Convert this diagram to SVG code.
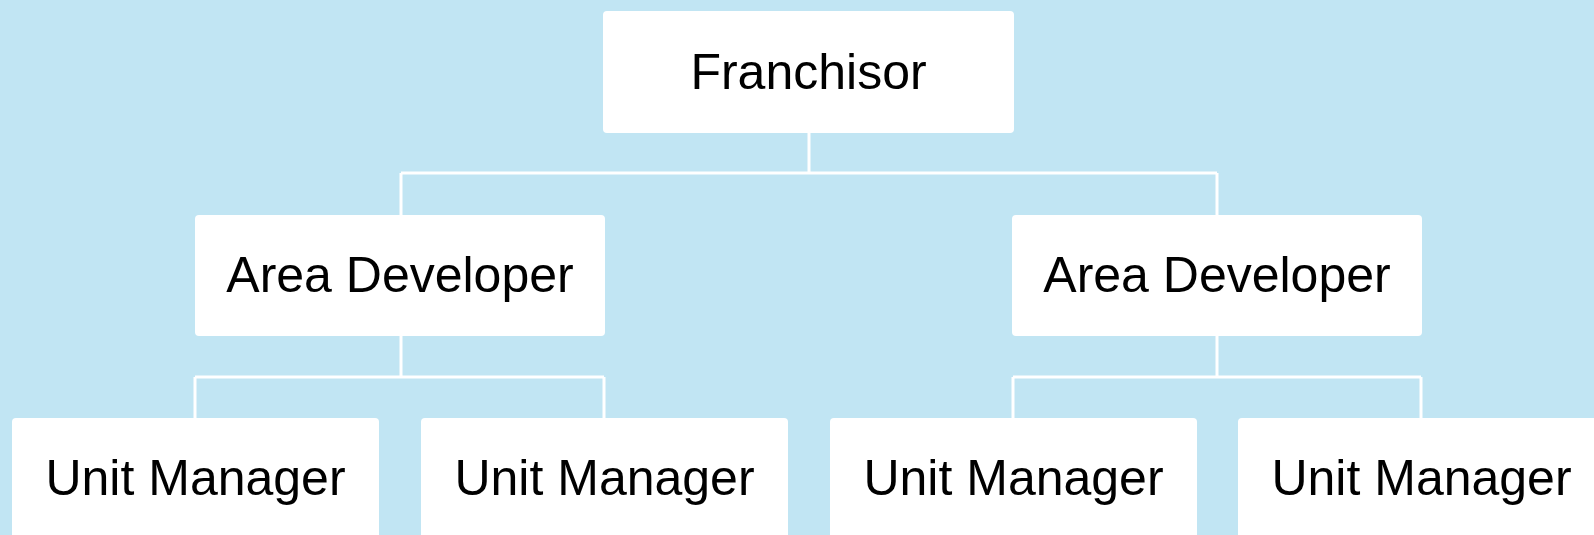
<svg xmlns="http://www.w3.org/2000/svg" width="1594" height="535" viewBox="0 0 1594 535">
<style>
.box{fill:#ffffff;}
.lbl{font-family:"Liberation Sans",Arial,sans-serif;font-size:50px;fill:#000000;text-anchor:middle;}
.conn{fill:none;stroke:#ffffff;stroke-width:3;}
</style>
<rect x="0" y="0" width="1594" height="535" fill="#c1e5f3"/>
<g id="connectors">
<path class="conn" d="M809 133 V173 M401 173 H1217 M401 173 V215 M1217 173 V215"/>
<path class="conn" d="M401 336 V377 M195 377 H604 M195 377 V418 M604 377 V418"/>
<path class="conn" d="M1217 336 V377 M1013 377 H1421 M1013 377 V418 M1421 377 V418"/>
</g>
<g id="franchisor">
<rect class="box" x="603" y="11" width="411" height="122" rx="4"/>
<text class="lbl" x="808.5" y="89">Franchisor</text>
</g>
<g id="area-developer-1">
<rect class="box" x="195" y="215" width="410" height="121" rx="4"/>
<text class="lbl" x="400" y="292">Area Developer</text>
</g>
<g id="area-developer-2">
<rect class="box" x="1012" y="215" width="410" height="121" rx="4"/>
<text class="lbl" x="1217" y="292">Area Developer</text>
</g>
<g id="unit-manager-1">
<rect class="box" x="12" y="418" width="367" height="121" rx="4"/>
<text class="lbl" x="195.5" y="495">Unit Manager</text>
</g>
<g id="unit-manager-2">
<rect class="box" x="421" y="418" width="367" height="121" rx="4"/>
<text class="lbl" x="604.5" y="495">Unit Manager</text>
</g>
<g id="unit-manager-3">
<rect class="box" x="830" y="418" width="367" height="121" rx="4"/>
<text class="lbl" x="1013.5" y="495">Unit Manager</text>
</g>
<g id="unit-manager-4">
<rect class="box" x="1238" y="418" width="367" height="121" rx="4"/>
<text class="lbl" x="1421.5" y="495">Unit Manager</text>
</g>
</svg>
